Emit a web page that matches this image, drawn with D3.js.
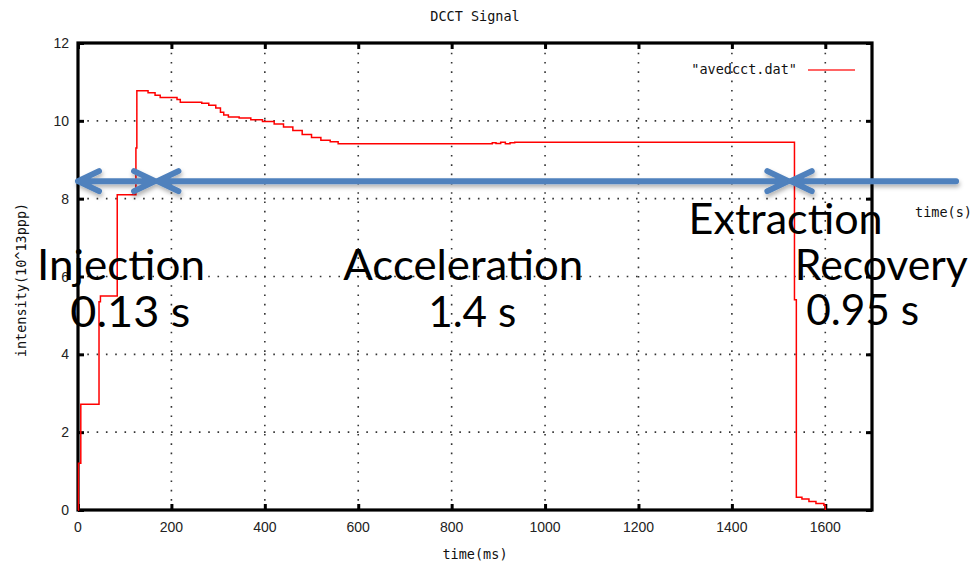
<!DOCTYPE html>
<html>
<head>
<meta charset="utf-8">
<script src="https://cdn.jsdelivr.net/npm/d3@7"></script>
<style>
  body { margin: 0; background: #fff; }
  svg { display: block; }
  .mono { font-family: "DejaVu Sans Mono", monospace; font-size: 13.5px; fill: #111; }
  .tick-label { font-family: "Liberation Sans", Arial, sans-serif; font-size: 14px; fill: #222; }
  .note { font-family: Lato, "Open Sans", sans-serif; font-size: 42px; fill: #000; }
</style>
</head>
<body>
<div id="chart"></div>
<script>
// DCCT signal, time in ms, intensity in 10^13 ppp (step points)
var times = [0, 1, 6, 45, 48, 84, 124, 126, 150, 165, 176, 212, 219, 265, 280, 295, 305, 312, 322,
  345, 370, 395, 420, 440, 460, 480, 500, 520, 540, 557, 887, 895, 905, 915, 925, 935,
  1534, 1538, 1550, 1565, 1580, 1597, 1600];
var intensity = [0, 1.2, 2.72, 5.35, 5.5, 8.1, 9.3, 10.77, 10.72, 10.66, 10.6, 10.55, 10.48, 10.45, 10.4, 10.33, 10.22, 10.15, 10.1,
  10.07, 10.03, 9.98, 9.92, 9.84, 9.75, 9.65, 9.57, 9.5, 9.46, 9.41, 9.44, 9.42, 9.45, 9.41, 9.44, 9.45,
  5.4, 0.33, 0.28, 0.22, 0.17, 0.12, 0];

var xTicks = [0, 200, 400, 600, 800, 1000, 1200, 1400, 1600];
var yTicks = [0, 2, 4, 6, 8, 10, 12];

// cycle phases (ms) shown as arrows at intensity 8.45
var phaseStart = [0, 170, 1526];
var phaseEnd = [165, 1521, 1880];
var phaseHeads = [[true, true], [true, true], [true, false]];
var arrowLevel = 8.45;

// annotation texts: [label, time centre, intensity baseline, width px]
var notes = [
  ["Injection", 92, 5.9, 168],
  ["0.13 s", 112, 4.7, 120],
  ["Acceleration", 825, 5.9, 240],
  ["1.4 s", 844, 4.7, 88],
  ["Extraction", 1515, 7.1, 194],
  ["Recovery", 1720, 5.9, 173],
  ["0.95 s", 1680, 4.75, 113]
];

(function() {
var W = 970, H = 561;
var margin = {top: 43, right: 98, bottom: 51, left: 78};

var x = d3.scaleLinear().domain([0, 1700]).range([margin.left, W - margin.right]);
var y = d3.scaleLinear().domain([0, 12]).range([H - margin.bottom, margin.top]);

var svg = d3.select("#chart").append("svg")
  .attr("width", W)
  .attr("height", H);

var defs = svg.append("defs");
var f = defs.append("filter").attr("id", "shadow")
  .attr("x", "-5%").attr("y", "-50%").attr("width", "110%").attr("height", "200%");
f.append("feDropShadow").attr("dx", 1).attr("dy", 3).attr("stdDeviation", 2)
  .attr("flood-color", "#000").attr("flood-opacity", 0.3);

// title
svg.append("text").attr("class", "mono")
  .attr("x", (x.range()[0] + x.range()[1]) / 2).attr("y", 21)
  .attr("text-anchor", "middle").text("DCCT Signal");

// grid
var grid = svg.append("g").attr("stroke", "#333").attr("stroke-width", 1.6)
  .attr("stroke-dasharray", "1.6 7.7");
grid.selectAll(".gx").data(xTicks.filter(function(d) { return d > 0; }))
  .enter().append("line")
  .attr("x1", function(d) { return x(d); }).attr("x2", function(d) { return x(d); })
  .attr("y1", y(0)).attr("y2", y(12));
grid.selectAll(".gy").data(yTicks.filter(function(d) { return d > 0 && d < 12; }))
  .enter().append("line")
  .attr("x1", x(0)).attr("x2", x(1700))
  .attr("y1", function(d) { return y(d); }).attr("y2", function(d) { return y(d); });

// axes (ticks inward on all sides)
var axBottom = svg.append("g").attr("transform", "translate(0," + y(0) + ")")
  .call(d3.axisTop(x).tickValues(xTicks).tickSize(6).tickFormat(""));
var axTop = svg.append("g").attr("transform", "translate(0," + y(12) + ")")
  .call(d3.axisBottom(x).tickValues(xTicks).tickSize(6).tickFormat(""));
var axLeft = svg.append("g").attr("transform", "translate(" + x(0) + ",0)")
  .call(d3.axisRight(y).tickValues(yTicks).tickSize(6).tickFormat(""));
var axRight = svg.append("g").attr("transform", "translate(" + x(1700) + ",0)")
  .call(d3.axisLeft(y).tickValues(yTicks).tickSize(6).tickFormat(""));
[axBottom, axTop, axLeft, axRight].forEach(function(g) {
  g.select(".domain").remove();
  g.selectAll("line").attr("stroke", "#000").attr("stroke-width", 3);
});

svg.append("g").selectAll("text").data(xTicks).enter().append("text")
  .attr("class", "tick-label")
  .attr("x", function(d) { return x(d); }).attr("y", 532)
  .attr("text-anchor", "middle").text(function(d) { return d; });
svg.append("g").selectAll("text").data(yTicks).enter().append("text")
  .attr("class", "tick-label")
  .attr("x", 69).attr("y", function(d) { return y(d); }).attr("dy", "0.36em")
  .attr("text-anchor", "end").text(function(d) { return d; });

// frame
svg.append("rect")
  .attr("x", x(0)).attr("y", y(12))
  .attr("width", x(1700) - x(0)).attr("height", y(0) - y(12))
  .attr("fill", "none").attr("stroke", "#000").attr("stroke-width", 3.2);

// axis labels
svg.append("text").attr("class", "mono")
  .attr("x", (x.range()[0] + x.range()[1]) / 2).attr("y", 559)
  .attr("text-anchor", "middle").text("time(ms)");
svg.append("text").attr("class", "mono")
  .attr("transform", "translate(26,280) rotate(-90)")
  .attr("text-anchor", "middle").text("intensity(10^13ppp)");
svg.append("text").attr("class", "mono")
  .attr("x", 915).attr("y", 217).text("time(s)");

// signal
var pts = times.map(function(t, i) { return [t, intensity[i]]; });
var line = d3.line()
  .x(function(d) { return x(d[0]); })
  .y(function(d) { return y(d[1]); })
  .curve(d3.curveStepAfter);
svg.append("path").datum(pts)
  .attr("d", line)
  .attr("fill", "none").attr("stroke", "#ff0000").attr("stroke-width", 1.5);

// legend
svg.append("text").attr("class", "mono")
  .attr("x", 797).attr("y", 74).attr("text-anchor", "end").text("\"avedcct.dat\"");
svg.append("line").attr("x1", 808).attr("x2", 855).attr("y1", 70).attr("y2", 70)
  .attr("stroke", "#ff3030").attr("stroke-width", 1.5);

// phase arrows
var arrows = svg.append("g").attr("stroke", "#4f81bd").attr("stroke-width", 6)
  .attr("stroke-linecap", "round").attr("stroke-linejoin", "round").attr("fill", "none")
  .attr("filter", "url(#shadow)");
var ay = y(arrowLevel);
phaseStart.forEach(function(s, i) {
  var x0 = x(s), x1 = x(phaseEnd[i]);
  var d = "M" + x0 + "," + ay + "L" + x1 + "," + ay;
  if (phaseHeads[i][0]) d += "M" + (x0 + 21) + "," + (ay - 10) + "L" + x0 + "," + ay + "L" + (x0 + 21) + "," + (ay + 10);
  if (phaseHeads[i][1]) d += "M" + (x1 - 21) + "," + (ay - 10) + "L" + x1 + "," + ay + "L" + (x1 - 21) + "," + (ay + 10);
  arrows.append("path").attr("d", d);
});

// annotations
svg.append("g").selectAll("text").data(notes).enter().append("text")
  .attr("class", "note")
  .attr("x", function(d) { return x(d[1]); })
  .attr("y", function(d) { return y(d[2]); })
  .attr("text-anchor", "middle")
  .attr("textLength", function(d) { return d[3]; })
  .attr("lengthAdjust", "spacingAndGlyphs")
  .text(function(d) { return d[0]; });
})();
</script>
</body>
</html>
